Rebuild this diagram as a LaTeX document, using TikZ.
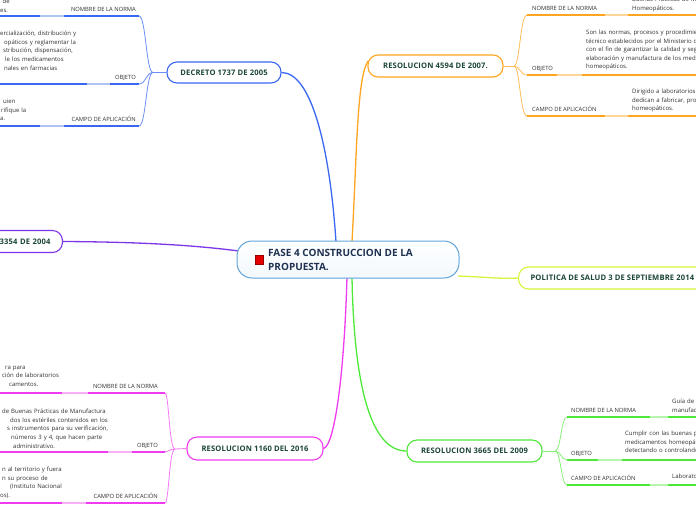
\documentclass[tikz,border=0pt]{standalone}
\usepackage{fontspec}
\setmainfont{Open Sans}
\usetikzlibrary{backgrounds}
\definecolor{cblue}{HTML}{3A68F2}
\definecolor{cbluel}{HTML}{AFC3F7}
\definecolor{corange}{HTML}{FFA51F}
\definecolor{corangel}{HTML}{FFD697}
\definecolor{cpurple}{HTML}{7D35E8}
\definecolor{cyellow}{HTML}{D4F53A}
\definecolor{cmag}{HTML}{F03CF0}
\definecolor{cmagl}{HTML}{F7B0F7}
\definecolor{cgreen}{HTML}{4FE83A}
\definecolor{cgreenl}{HTML}{B5F5AD}
\definecolor{ctitle}{HTML}{1B4536}
\definecolor{ccentral}{HTML}{1E3150}
\definecolor{ccborder}{HTML}{5FA3D9}
\definecolor{ccfill}{HTML}{F2F8FD}
\definecolor{ctext}{HTML}{303030}
\begin{document}
\begin{tikzpicture}[x=1pt,y=-1pt,
  topic/.style={draw=#1, rounded corners=10pt, line width=1.1pt, fill=white,
    font=\bfseries\fontsize{7.6}{9}\selectfont\addfontfeature{LetterSpace=2}, text=ctitle, inner sep=0pt},
  centralbox/.style={draw=ccborder, line width=1pt, rounded corners=15pt,
    minimum width=222pt, minimum height=37pt, inner sep=0pt, top color=white, bottom color=ccfill},
  ctxt/.style={anchor=west, align=left, font=\bfseries\fontsize{10}{14.5}\selectfont,
    text=ccentral, inner sep=0pt},
  redsq/.style={fill=red!90!black, draw=red!60!black, line width=0.3pt, minimum size=8.5pt, inner sep=0pt},
  lbl/.style={font=\fontsize{5.8}{7}\selectfont, text=ctext, inner sep=0pt},
  desc/.style={font=\fontsize{6}{8.6}\selectfont, text=ctext, inner sep=0pt, text width=190pt, align=left, anchor=north west},
  branch/.style={draw=#1, line width=1.3pt},
  fan/.style={draw=#1, line width=0.8pt},
  ul/.style={draw=#1, line width=1.8pt},
]
\useasboundingbox (0,0) rectangle (696,520);
\clip (0,0) rectangle (696,520);

% ---------- central ----------
\node[centralbox] (central) at (348,259.5) {};
\node[ctxt] (ctitle) at (268,260) {FASE 4 CONSTRUCCION DE LA\\PROPUESTA.};
\node[redsq] (redsq) at (259,259.5) {};

% ---------- main topics ----------
\node[topic=cblue, minimum width=114pt, minimum height=21pt] (decreto) at (224,72.5) {DECRETO 1737 DE 2005};
\node[topic=corange, minimum width=135pt, minimum height=22pt] (r4594) at (435.5,66) {RESOLUCION 4594 DE 2007.};
\node[topic=cpurple, anchor=east, text width=110pt, align=right, inner xsep=12pt, minimum height=22pt] (r3354) at (63,241.5) {3354 DE 2004};
\node[topic=cyellow, anchor=west, inner xsep=12pt, minimum height=22pt] (politica) at (518,278) {POLITICA DE SALUD 3 DE SEPTIEMBRE 2014};
\node[topic=cmag, minimum width=136pt, minimum height=23pt] (r1160) at (255,448.5) {RESOLUCION 1160 DEL 2016};
\node[topic=cgreen, minimum width=135pt, minimum height=22pt] (r3665) at (474.5,451) {RESOLUCION 3665 DEL 2009};

% ---------- main branches ----------
\begin{pgfonlayer}{background}
\coordinate (cbl) at (336,242);
\coordinate (cor) at (352,242);
\coordinate (cpu) at (239,251);
\coordinate (cye) at (458,276);
\coordinate (cma) at (347,277);
\coordinate (cgr) at (352,277);
\draw[branch=cblue] (cbl) .. controls (330,150) and (312,72.5) .. (decreto.east);
\draw[branch=corange] (cor) .. controls (357,150) and (357,78) .. (368,61);
\draw[branch=cpurple] (r3354.east) .. controls (150,242) and (200,246) .. (cpu);
\draw[branch=cyellow] (cye) .. controls (485,277) and (500,279) .. (politica.west);
\draw[branch=cmag] (cma) .. controls (344,380) and (334,446) .. (r1160.east);
\draw[branch=cgreen] (cgr) .. controls (354,390) and (372,451) .. (r3665.west);
\end{pgfonlayer}

% ---------- DECRETO 1737 (blue, left) ----------
\coordinate (jb) at (153,72.5);
\coordinate (bn) at (139,16);
\coordinate (bo) at (139,84);
\coordinate (bc) at (139,126);
\draw[fan=cblue!75] (decreto.west) -- (jb);
\draw[fan=cblue!75] (jb) .. controls (146,72.5) and (146,16) .. (bn);
\draw[fan=cblue!75] (jb) .. controls (146,72.5) and (146,84) .. (bo);
\draw[fan=cblue!75] (jb) .. controls (146,72.5) and (146,126) .. (bc);
\draw[ul=cblue] (bn) -- (64,16);  \draw[ul=cbluel] (64,16) -- (40,16);  \draw[ul=cblue] (40,16) -- (-2,16);
\draw[ul=cblue] (bo) -- (110,84); \draw[ul=cbluel] (110,84) -- (87,84); \draw[ul=cblue] (87,84) -- (-2,84);
\draw[ul=cblue] (bc) -- (64,126); \draw[ul=cbluel] (64,126) -- (40,126); \draw[ul=cblue] (40,126) -- (-2,126);
\node[lbl, anchor=base east] (bnl) at (136,11) {NOMBRE DE LA NORMA};
\node[lbl, anchor=base east] (bol) at (136,79) {OBJETO};
\node[lbl, anchor=base east] (bcl) at (136,121) {CAMPO DE APLICACIÓN};
\node[desc] (bnd) at (0,-1.2) {\hspace*{2.5pt}de\\es.};
\node[desc] (bod) at (0,30.8) {ercialización, distribución y\\\hspace*{4pt}opáticos y reglamentar la\\\hspace*{3pt}stribución, dispensación,\\\hspace*{5pt}le los medicamentos\\\hspace*{4pt}nales en farmacias};
\node[desc] (bcd) at (0,98.8) {\hspace*{3pt}uien\\\hspace*{1pt}rifique la\\a.};

% ---------- RESOLUCION 4594 (orange, right) ----------
\coordinate (jo) at (514,66);
\coordinate (on) at (527,15);
\coordinate (oo) at (527,75);
\coordinate (oc) at (527,116);
\draw[fan=corange!75] (r4594.east) -- (jo);
\draw[fan=corange!75] (jo) .. controls (520,66) and (520,15) .. (on);
\draw[fan=corange!75] (jo) .. controls (520,66) and (520,75) .. (oo);
\draw[fan=corange!75] (jo) .. controls (520,66) and (520,116) .. (oc);
\draw[ul=corange] (on) -- (605,15);  \draw[ul=corangel] (605,15) -- (628,15);  \draw[ul=corange] (628,15) -- (698,15);
\draw[ul=corange] (oo) -- (557,75);  \draw[ul=corangel] (557,75) -- (582,75);  \draw[ul=corange] (582,75) -- (698,75);
\draw[ul=corange] (oc) -- (605,116); \draw[ul=corangel] (605,116) -- (628,116); \draw[ul=corange] (628,116) -- (698,116);
\node[lbl, anchor=base west] (onl) at (532,10) {NOMBRE DE LA NORMA};
\node[lbl, anchor=base west] (ool) at (532,70) {OBJETO};
\node[lbl, anchor=base west] (ocl) at (532,111) {CAMPO DE APLICACIÓN};
\node[desc] (ond) at (632,-3) {Buenas Prácticas de Manufactura\\Homeopáticos.};
\node[desc] (ood) at (586,29.8) {Son las normas, procesos y procedimientos\\técnico establecidos por el Ministerio de\\con el fin de garantizar la calidad y seguridad\\elaboración y manufactura de los medicamentos\\homeopáticos.};
\node[desc] (ocd) at (632,88.8) {Dirigido a laboratorios que se\\dedican a fabricar, producir\\homeopáticos.};

% ---------- RESOLUCION 1160 (magenta, left) ----------
\coordinate (jm) at (175,449);
\coordinate (mn) at (165,393);
\coordinate (mo) at (165,452);
\coordinate (mc) at (165,503);
\draw[fan=cmag!70] (r1160.west) -- (jm);
\draw[fan=cmag!70] (jm) .. controls (169,449) and (169,393) .. (mn);
\draw[fan=cmag!70] (jm) .. controls (169,449) and (169,452) .. (mo);
\draw[fan=cmag!70] (jm) .. controls (169,449) and (169,503) .. (mc);
\draw[ul=cmag] (mn) -- (88,393);  \draw[ul=cmagl] (88,393) -- (62,393);  \draw[ul=cmag] (62,393) -- (-2,393);
\draw[ul=cmag] (mo) -- (132,452); \draw[ul=cmagl] (132,452) -- (108,452); \draw[ul=cmag] (108,452) -- (-2,452);
\draw[ul=cmag] (mc) -- (86,503);  \draw[ul=cmagl] (86,503) -- (62,503);  \draw[ul=cmag] (62,503) -- (-2,503);
\node[lbl, anchor=base east] (mnl) at (158,388) {NOMBRE DE LA NORMA};
\node[lbl, anchor=base east] (mol) at (158,447) {OBJETO};
\node[lbl, anchor=base east] (mcl) at (158,498) {CAMPO DE APLICACIÓN};
\node[desc] (mnd) at (0,365.8) {\hspace*{5pt}ra para\\\hspace*{2pt}ción de laboratorios\\\hspace*{9pt}camentos.};
\node[desc] (mod) at (0,408.8) {\hspace*{2pt}de Buenas Prácticas de Manufactura\\\hspace*{10pt}dos los estériles contenidos en los\\\hspace*{7pt}s instrumentos para su verificación,\\\hspace*{11pt}números 3 y 4, que hacen parte\\\hspace*{13pt}administrativo.};
\node[desc] (mcd) at (0,466.8) {\hspace*{2pt}n al territorio y fuera\\\hspace*{2pt}n su proceso de\\\hspace*{10pt}(Instituto Nacional\\os).};

% ---------- RESOLUCION 3665 (green, right) ----------
\coordinate (jg) at (555,451);
\coordinate (gn) at (567,417);
\coordinate (go) at (567,460);
\coordinate (gc) at (567,485);
\draw[fan=cgreen!70] (r3665.east) -- (jg);
\draw[fan=cgreen!70] (jg) .. controls (561,451) and (561,417) .. (gn);
\draw[fan=cgreen!70] (jg) .. controls (561,451) and (561,460) .. (go);
\draw[fan=cgreen!70] (jg) .. controls (561,451) and (561,485) .. (gc);
\draw[ul=cgreen] (gn) -- (650,417); \draw[ul=cgreenl] (650,417) -- (668,417); \draw[ul=cgreen] (668,417) -- (698,417);
\draw[ul=cgreen] (go) -- (598,460); \draw[ul=cgreenl] (598,460) -- (622,460); \draw[ul=cgreen] (622,460) -- (698,460);
\draw[ul=cgreen] (gc) -- (650,485); \draw[ul=cgreenl] (650,485) -- (668,485); \draw[ul=cgreen] (668,485) -- (698,485);
\node[lbl, anchor=base west] (gnl) at (571,412) {NOMBRE DE LA NORMA};
\node[lbl, anchor=base west] (gol) at (571,455) {OBJETO};
\node[lbl, anchor=base west] (gcl) at (571,480) {CAMPO DE APLICACIÓN};
\node[desc] (gnd) at (672,398.8) {Guía de\\manufactura};
\node[desc] (god) at (625,430.8) {Cumplir con las buenas prácticas\\medicamentos homeopáticos\\detectando o controlando};
\node[desc] (gcd) at (672,473.8) {Laboratorios};
\end{tikzpicture}
\end{document}
